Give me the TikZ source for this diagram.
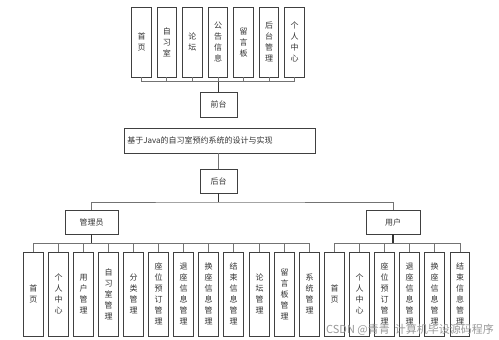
\documentclass[tikz,border=0pt]{standalone}
\usepackage{fontspec}
\setmainfont{Noto Sans CJK SC}
\begin{document}
\begin{tikzpicture}[x=1pt,y=-1pt,
  box/.style={draw=black!75,line width=0.8pt,fill=white,inner sep=0pt,font=\fontsize{8}{11}\selectfont,text=black!80,align=center},
  vbox/.style={box,minimum width=19.5pt},
  topbox/.style={vbox,minimum height=70pt},
  leaf/.style={vbox,minimum height=84pt},
  link/.style={draw=black!55,line width=0.9pt},
  thick link/.style={draw=black!80,line width=1.1pt}]
\useasboundingbox (0,0) rectangle (499,340);
% top row
\node[topbox] (t1) at (141.5,42) {首\\页};
\node[topbox] (t2) at (166.8,42) {自\\习\\室};
\node[topbox] (t3) at (192.3,42) {论\\坛};
\node[topbox] (t4) at (218,42) {公\\告\\信\\息};
\node[topbox] (t5) at (243.5,42) {留\\言\\板};
\node[topbox] (t6) at (269,42) {后\\台\\管\\理};
\node[topbox] (t7) at (294.5,42) {个\\人\\中\\心};
\node[box,minimum width=37pt,minimum height=25pt] (qt) at (218.5,104.5) {前台};
\node[box,minimum width=191pt,minimum height=25pt,anchor=west,text width=185pt,align=left] (title) at (124,140.5) {基于Java的自习室预约系统的设计与实现};
\node[box,minimum width=37pt,minimum height=24pt] (ht) at (218.5,181) {后台};
\node[box,minimum width=53pt,minimum height=24pt] (gly) at (91.5,222) {管理员};
\node[box,minimum width=54pt,minimum height=24pt] (yh) at (393,222) {用户};
% admin leaves
\node[leaf] (a1) at (33.5,294) {首\\页};
\node[leaf] (a2) at (58.5,294) {个\\人\\中\\心};
\node[leaf] (a3) at (83.5,294) {用\\户\\管\\理};
\node[leaf] (a4) at (108.5,294) {自\\习\\室\\管\\理};
\node[leaf] (a5) at (133.5,294) {分\\类\\管\\理};
\node[leaf] (a6) at (158.5,294) {座\\位\\预\\订\\管\\理};
\node[leaf] (a7) at (183.5,294) {退\\座\\信\\息\\管\\理};
\node[leaf] (a8) at (208.5,294) {换\\座\\信\\息\\管\\理};
\node[leaf] (a9) at (233.5,294) {结\\束\\信\\息\\管\\理};
\node[leaf] (a10) at (259.5,294) {论\\坛\\管\\理};
\node[leaf] (a11) at (284.5,294) {留\\言\\板\\管\\理};
\node[leaf] (a12) at (309.5,294) {系\\统\\管\\理};
% user leaves
\node[leaf] (u1) at (334.5,294) {首\\页};
\node[leaf] (u2) at (359.5,294) {个\\人\\中\\心};
\node[leaf] (u3) at (384.5,294) {座\\位\\预\\订\\管\\理};
\node[leaf] (u4) at (409.5,294) {退\\座\\信\\息\\管\\理};
\node[leaf] (u5) at (434.5,294) {换\\座\\信\\息\\管\\理};
\node[leaf] (u6) at (460,294) {结\\束\\信\\息\\管\\理};
% connectors top
\coordinate (b1) at (218.5,81.5);
\foreach \n in {t1,t2,t3,t4,t5,t6,t7} \draw[link] (\n.south) -- (\n.south |- b1);
\draw[link] (t1.south |- b1) -- (t7.south |- b1);
\draw[thick link] (b1) -- (qt.north);
\draw[link] (title.south -| ht.north) -- (ht.north);
% second level
\coordinate (b2) at (218.5,202);
\draw[thick link] (ht.south) -- (b2);
\draw[link] (gly.north) |- (b2) -| (yh.north);
% admin bus
\coordinate (b3) at (91.5,243);
\draw[thick link] (gly.south) -- (b3);
\foreach \n in {a1,a2,a3,a4,a5,a6,a7,a8,a9,a10,a11,a12} \draw[link] (\n.north) -- (\n.north |- b3);
\draw[link] (a1.north |- b3) -- (a12.north |- b3);
% user bus
\coordinate (b4) at (393,243);
\draw[thick link] (yh.south) -- (b4);
\foreach \n in {u1,u2,u3,u4,u5,u6} \draw[link] (\n.north) -- (\n.north |- b4);
\draw[link] (u1.north |- b4) -- (u6.north |- b4);
% watermark
\node[anchor=east,text=black!40,font=\fontsize{11}{12}\selectfont,inner sep=0pt] (wm) at (494,329.5) {CSDN @青青\ \ 计算机毕设源码程序};
\end{tikzpicture}
\end{document}
